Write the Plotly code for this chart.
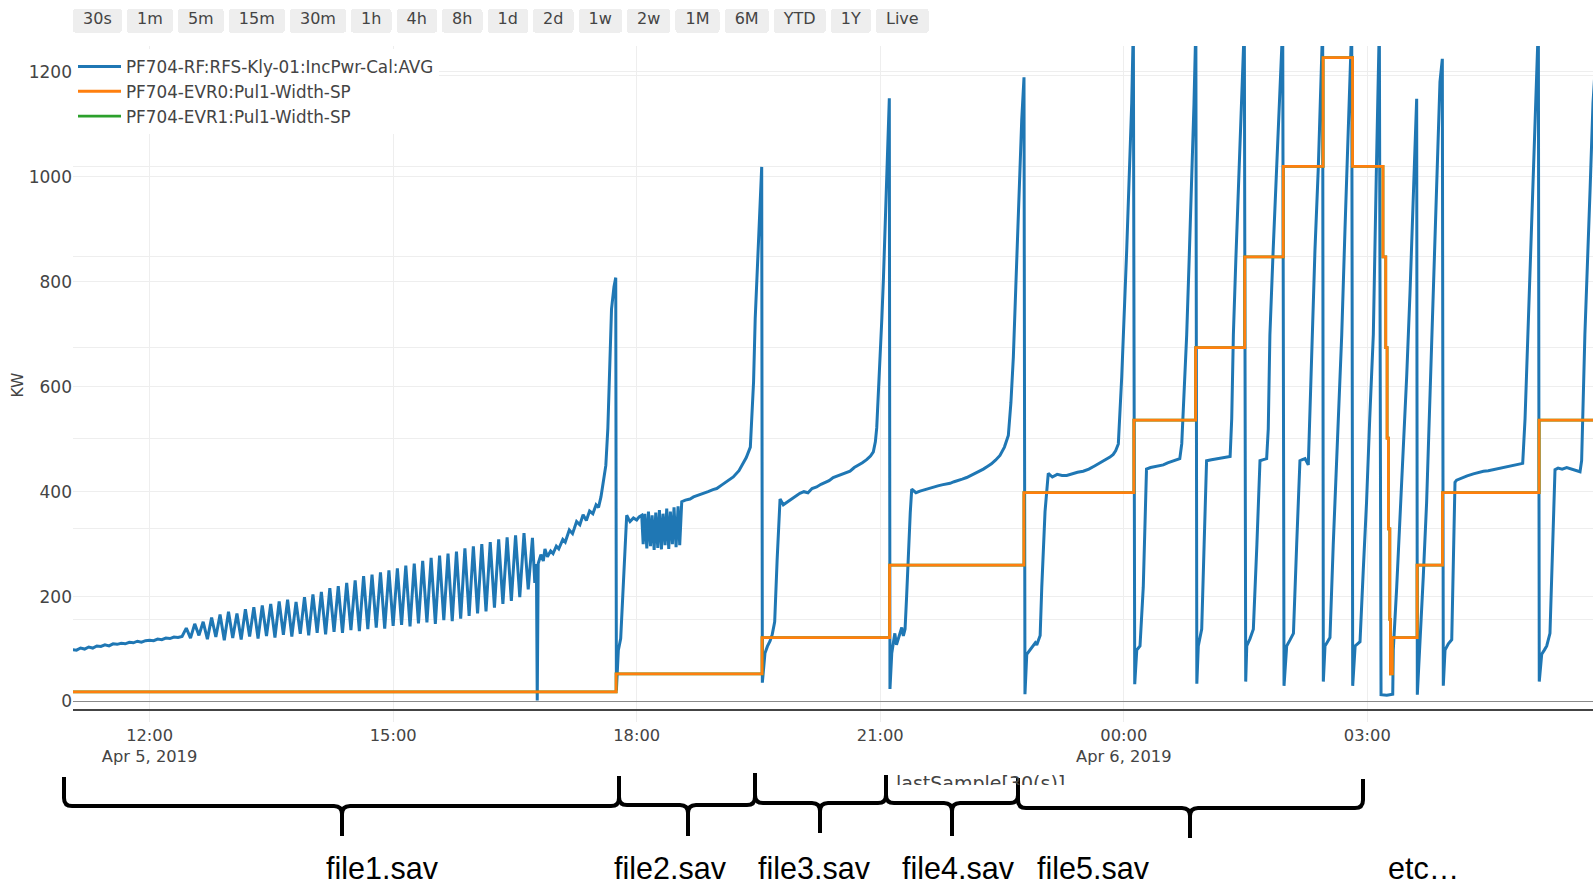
import pandas as pd
import plotly.graph_objects as go

# ------------------------------------------------------------------ data
T0 = pd.Timestamp("2019-04-05 00:00:00")   # times below are hours after this

# PF704-RF:RFS-Kly-01:IncPwr-Cal:AVG  [KW], one block per conditioning file
file1_h = [11.05, 11.10, 11.15, 11.20, 11.25, 11.30, 11.35, 11.40, 11.45, 11.50,
           11.55, 11.60, 11.65, 11.70, 11.75, 11.80, 11.85, 11.90, 11.95, 12.00,
           12.05, 12.10, 12.15, 12.20, 12.25, 12.30, 12.35,
           12.400, 12.452, 12.504, 12.556, 12.608, 12.660, 12.712, 12.764, 12.816, 12.868,
           12.920, 12.972, 13.024, 13.076, 13.128, 13.180, 13.232, 13.284, 13.336, 13.388,
           13.440, 13.492, 13.544, 13.596, 13.648, 13.700, 13.752, 13.804, 13.856, 13.908,
           13.960, 14.012, 14.064, 14.116, 14.168, 14.220, 14.272, 14.324, 14.376, 14.428,
           14.480, 14.532, 14.584, 14.636, 14.688, 14.740, 14.792, 14.844, 14.896, 14.948,
           15.000, 15.052, 15.104, 15.156, 15.208, 15.260, 15.312, 15.364, 15.416, 15.468,
           15.520, 15.572, 15.624, 15.676, 15.728, 15.780, 15.832, 15.884, 15.936, 15.988,
           16.040, 16.092, 16.144, 16.196, 16.248, 16.300, 16.352, 16.404, 16.456, 16.508,
           16.560, 16.612, 16.664, 16.716,
           16.745, 16.765, 16.775, 16.787, 16.82, 16.85, 16.87, 16.90, 16.94, 16.97,
           17.01, 17.04, 17.09, 17.12, 17.17, 17.21, 17.26, 17.30, 17.34, 17.38,
           17.42, 17.46, 17.50, 17.53, 17.56, 17.58, 17.60, 17.62, 17.645, 17.67,
           17.69, 17.72, 17.742]
file1_kw = [99, 98, 102, 100, 104, 102, 106, 105, 108, 106,
            110, 109, 111, 110, 113, 112, 115, 113, 116, 117,
            116, 119, 118, 121, 120, 123, 122,
            124, 140, 121, 148, 126, 152, 119, 160, 123, 166,
            117, 171, 121, 168, 118, 176, 124, 180, 120, 183,
            125, 186, 122, 191, 127, 194, 124, 190, 129, 199,
            126, 204, 131, 209, 128, 216, 133, 220, 131, 226,
            136, 231, 134, 239, 138, 242, 141, 246, 139, 250,
            144, 254, 146, 259, 143, 263, 149, 268, 151, 274,
            148, 278, 155, 282, 153, 286, 158, 292, 163, 296,
            168, 300, 172, 304, 179, 309, 186, 313, 192, 317,
            199, 321, 214, 312,
            226, 262, 2, 263, 280, 268, 291, 276, 287, 282,
            296, 291, 309, 304, 327, 320, 343, 337, 356, 345,
            363, 358, 375, 370, 390, 410, 430, 450, 521, 657,
            748, 790, 808]

file2_h = [17.750, 17.760, 17.774, 17.803, 17.835, 17.865, 17.877, 17.900, 17.918, 17.960,
           18.000, 18.030, 18.062, 18.080, 18.100, 18.125, 18.145, 18.170, 18.190, 18.215,
           18.235, 18.260, 18.280, 18.305, 18.325, 18.350, 18.370, 18.395, 18.415, 18.440,
           18.460, 18.485, 18.510, 18.530, 18.555, 18.600, 18.657, 18.700, 18.760, 18.820,
           18.880, 18.940, 18.986, 19.050, 19.120, 19.190, 19.260, 19.310, 19.350, 19.400,
           19.420, 19.440, 19.460, 19.480, 19.500, 19.520, 19.540]
file2_kw = [21, 60, 98, 120, 226, 321, 355, 348, 343, 350,
            346, 352, 355, 300, 358, 292, 362, 296, 355, 289,
            360, 293, 365, 290, 358, 298, 368, 291, 362, 300,
            370, 294, 372, 298, 381, 384, 386, 390, 393, 397,
            400, 404, 406, 413, 420, 428, 440, 454, 465, 485,
            540, 610, 730, 810, 884, 950, 1019]

file3_h = [19.548, 19.580, 19.610, 19.642, 19.670, 19.700, 19.730, 19.766, 19.806, 19.850,
           19.900, 19.950, 20.010, 20.060, 20.110, 20.160, 20.217, 20.270, 20.320, 20.370,
           20.420, 20.470, 20.530, 20.580, 20.628, 20.680, 20.730, 20.780, 20.833, 20.880,
           20.915, 20.940, 20.957, 20.980, 21.000, 21.020, 21.040, 21.060, 21.080, 21.100,
           21.112]
file3_kw = [36, 92, 105, 115, 128, 152, 270, 386, 375, 380,
            386, 390, 397, 400, 398, 406, 409, 414, 418, 421,
            427, 430, 433, 436, 439, 446, 450, 455, 461, 468,
            476, 495, 522, 590, 657, 730, 808, 900, 996, 1090,
            1150]

file4_h = [21.120, 21.142, 21.160, 21.180, 21.200, 21.220, 21.245, 21.265, 21.285, 21.306,
           21.325, 21.346, 21.370, 21.388, 21.440, 21.490, 21.550, 21.600, 21.654, 21.710,
           21.760, 21.810, 21.860, 21.910, 21.960, 22.010, 22.065, 22.120, 22.170, 22.220,
           22.270, 22.320, 22.370, 22.420, 22.475, 22.530, 22.578, 22.610, 22.640, 22.670,
           22.700, 22.720, 22.743, 22.771]
file4_kw = [24, 92, 110, 130, 108, 118, 135, 141, 125, 138,
            200, 281, 360, 405, 398, 401, 404, 406, 409, 411,
            413, 414, 416, 419, 421, 424, 427, 431, 435, 439,
            443, 448, 453, 460, 469, 485, 507, 570, 657, 790,
            921, 1020, 1109, 1190]

file5_h = [22.783, 22.805, 22.840, 22.886, 22.910, 22.928, 22.950, 22.970, 22.990, 23.030,
           23.070, 23.120, 23.180, 23.240, 23.297, 23.360, 23.430, 23.500, 23.570, 23.640,
           23.707, 23.770, 23.830, 23.870, 23.900, 23.933, 23.975, 24.036, 24.098, 24.118,
           24.135, 24.160, 24.200, 24.240, 24.280, 24.330, 24.390, 24.440, 24.487, 24.540,
           24.600, 24.650, 24.690, 24.714, 24.745, 24.775, 24.805, 24.837, 24.865, 24.888,
           24.900, 24.918, 24.940, 24.960, 24.990, 25.020, 25.080, 25.145, 25.200, 25.260,
           25.310, 25.330, 25.350, 25.380, 25.410, 25.450, 25.485,
           25.502, 25.515, 25.555, 25.596, 25.640, 25.678, 25.720, 25.760, 25.780, 25.800,
           25.840, 25.884, 25.920, 25.958,
           25.974, 26.007, 26.050, 26.090, 26.130, 26.170, 26.200, 26.233, 26.273, 26.290,
           26.315, 26.355, 26.397, 26.425, 26.450,
           26.458, 26.479, 26.510, 26.540, 26.580, 26.630, 26.685, 26.725, 26.766, 26.808]
file5_kw = [14, 90, 97, 106, 112, 108, 120, 126, 218, 362,
            435, 428, 433, 431, 431, 434, 437, 439, 443, 449,
            455, 460, 466, 471, 478, 491, 619, 860, 1141, 1290,
            33, 98, 106, 218, 443, 446, 448, 450, 451, 455,
            458, 460, 463, 491, 600, 699, 840, 980, 1140, 1290,
            34, 106, 120, 138, 300, 459, 461, 463, 464, 466,
            467, 540, 699, 840, 980, 1150, 1290,
            38, 106, 120, 138, 300, 459, 461, 463, 520, 699,
            860, 1020, 1160, 1290,
            30, 106, 118, 130, 300, 459, 461, 463, 451, 540,
            699, 860, 1020, 1160, 1290,
            38, 106, 114, 122, 298, 500, 699, 900, 1100, 1290]

etc_h = [26.820, 26.850, 26.880, 26.910, 26.950, 26.990, 27.030, 27.074, 27.110, 27.148,
         27.169, 27.240, 27.313,
         27.320, 27.362, 27.400, 27.443, 27.485, 27.526, 27.556, 27.587, 27.608,
         27.616, 27.650, 27.690, 27.730, 27.770, 27.813, 27.855, 27.895, 27.924,
         27.936, 27.957, 27.998, 28.040, 28.080, 28.100, 28.160, 28.230, 28.306, 28.370,
         28.430, 28.490, 28.550, 28.620, 28.680, 28.740, 28.800, 28.860, 28.914, 28.943,
         28.970, 29.000, 29.033, 29.066, 29.107,
         29.118, 29.148, 29.180, 29.210, 29.250, 29.280, 29.312, 29.350, 29.400, 29.456,
         29.500, 29.560, 29.620, 29.640, 29.680, 29.745, 29.780, 29.820]
etc_kw = [30, 106, 110, 114, 250, 378, 540, 699, 1000, 1290,
          13, 12, 14,
          98, 218, 340, 459, 620, 780, 920, 1060, 1149,
          13, 106, 240, 378, 580, 780, 980, 1181, 1225,
          30, 98, 110, 118, 418, 422, 426, 430, 434, 437,
          439, 440, 442, 445, 447, 448, 450, 452, 454, 539,
          660, 780, 940, 1100, 1290,
          38, 90, 98, 106, 130, 300, 442, 445, 443, 446,
          444, 441, 438, 459, 699, 980, 1141, 1240]

# PF704-EVR0 / EVR1:Pul1-Width-SP (step setpoints, right axis; EVR1 identical to EVR0)
width_h = [11.05, 17.747, 19.545, 21.115, 22.770, 24.125, 24.885, 25.490, 25.965, 26.455,
           26.818, 27.193, 27.227, 27.244, 27.260, 27.277, 27.285, 27.308, 27.614, 27.926,
           29.116, 29.820]
width_us = [50, 100, 200, 400, 600, 800, 1000, 1250, 1500, 1800,
            1500, 1250, 1000, 750, 500, 250, 100, 200, 400, 600,
            800, 800]

series_names = ["PF704-RF:RFS-Kly-01:IncPwr-Cal:AVG",
                "PF704-EVR0:Pul1-Width-SP",
                "PF704-EVR1:Pul1-Width-SP"]
series_colors = ["#1f77b4", "#ff7f0e", "#2ca02c"]

x_view_h = [11.0565, 29.78]
kw_range = [-39, 1249.5]
width_range = [-33, 1832]

button_labels = ["30s", "1m", "5m", "15m", "30m", "1h", "4h", "8h", "1d", "2d",
                 "1w", "2w", "1M", "6M", "YTD", "1Y", "Live"]
button_steps = [("second", 30), ("minute", 1), ("minute", 5), ("minute", 15), ("minute", 30),
                ("hour", 1), ("hour", 4), ("hour", 8), ("day", 1), ("day", 2),
                ("day", 7), ("day", 14), ("month", 1), ("month", 6), ("year", 1),
                ("year", 1), ("all", 1)]

file_labels = ["file1.sav", "file2.sav", "file3.sav", "file4.sav", "file5.sav", "etc…"]
x_title = "lastSample[30(s)]"
y_title = "KW"

# ------------------------------------------------------------------ helpers
def to_time(hours):
    return T0 + pd.to_timedelta(pd.Series(hours, dtype=float), unit="h")

pwr_h = file1_h + file2_h + file3_h + file4_h + file5_h + etc_h
pwr_kw = file1_kw + file2_kw + file3_kw + file4_kw + file5_kw + etc_kw

W, H = 1593, 884
ML, MT, MB, MR = 73, 46, 162, 0
PW, PH = W - ML - MR, H - MT - MB
BOTTOM = MT + PH

def paper_x(X):
    return (X - ML) / PW

def paper_y(Y):
    return (BOTTOM - Y) / PH

FONT = "DejaVu Sans, Verdana, sans-serif"
GRID = "#eeeeee"

# ------------------------------------------------------------------ figure
fig = go.Figure()
fig.add_trace(go.Scatter(x=to_time(pwr_h), y=pwr_kw, mode="lines",
                         name=series_names[0], legendrank=1,
                         line=dict(color=series_colors[0], width=3)))
fig.add_trace(go.Scatter(x=to_time(width_h), y=width_us, mode="lines", yaxis="y2",
                         name=series_names[2], legendrank=3, line_shape="hv",
                         line=dict(color=series_colors[2], width=2.8)))
fig.add_trace(go.Scatter(x=to_time(width_h), y=width_us, mode="lines", yaxis="y2",
                         name=series_names[1], legendrank=2, line_shape="hv",
                         line=dict(color=series_colors[1], width=2.8)))

buttons = []
for lab, (step, cnt) in zip(button_labels, button_steps):
    b = dict(label="\u00a0" + lab + "\u00a0", step=step, count=cnt)
    if step != "all":
        b["stepmode"] = "todate" if lab == "YTD" else "backward"
    buttons.append(b)

# braces drawn below the chart (pixel geometry)
braces = [  # left x, right x, tip x, left top, right top, bar y, tip y
    (64, 619, 342, 777, 776, 806, 836),
    (619, 755, 688, 776, 773, 805, 836),
    (755, 886, 820, 773, 775, 803, 833),
    (886, 1018, 952, 775, 778, 803, 836),
    (1018, 1363, 1190, 778, 779, 808, 838),
]
label_x = [382, 670, 814, 958, 1093, 1423]

def brace_path(xa, xb, xm, ya, yb, yl, yc, r=8):
    def p(X, Y):
        return f"{X - ML:.1f},{BOTTOM - Y:.1f}"
    return (f"M{p(xa, ya)} L{p(xa, yl - r)} Q{p(xa, yl)} {p(xa + r, yl)} "
            f"L{p(xm - r, yl)} Q{p(xm, yl)} {p(xm, yl + r)} L{p(xm, yc)} "
            f"M{p(xm, yl + r)} Q{p(xm, yl)} {p(xm + r, yl)} "
            f"L{p(xb - r, yl)} Q{p(xb, yl)} {p(xb, yl - r)} L{p(xb, yb)}")

shapes = []
for br in braces:
    shapes.append(dict(type="path", xref="paper", yref="paper",
                       xsizemode="pixel", ysizemode="pixel", xanchor=0, yanchor=0,
                       path=brace_path(*br), layer="above",
                       line=dict(color="black", width=4)))

annotations = [dict(text=t, x=paper_x(x), y=paper_y(867.5), xref="paper", yref="paper",
                    showarrow=False, xanchor="center", yanchor="middle",
                    font=dict(family="Liberation Sans, Arial, sans-serif", size=30.5, color="black"))
               for t, x in zip(file_labels, label_x)]
# x-axis caption: only its upper part shows above the brace picture (box clips the text)
annotations.append(dict(text=x_title, x=paper_x(980), y=paper_y(771), xref="paper", yref="paper",
                        showarrow=False, xanchor="center", yanchor="top",
                        height=13, valign="top", borderpad=0,
                        font=dict(family=FONT, size=19, color="#444")))
# y-axis caption
annotations.append(dict(text=y_title, x=paper_x(17.5), y=paper_y(385), xref="paper", yref="paper",
                        showarrow=False, xanchor="center", yanchor="middle", textangle=-90,
                        font=dict(family=FONT, size=15.5, color="#444")))

fig.update_layout(
    template="none",
    width=W, height=H, autosize=False,
    margin=dict(l=ML, r=MR, t=MT, b=MB, pad=0),
    paper_bgcolor="white", plot_bgcolor="white",
    font=dict(family=FONT, size=16.4, color="#444"),
    showlegend=True,
    legend=dict(x=0, y=paper_y(MT + 3), xanchor="left", yanchor="top", bgcolor="white",
                itemwidth=43,
                font=dict(family=FONT, size=16.8, color="#444"), borderwidth=0),
    xaxis=dict(type="date", range=list(to_time(x_view_h)),
               tick0="2019-04-05 00:00", dtick=3 * 3600 * 1000,
               showgrid=True, gridcolor=GRID, zeroline=False, showline=False, ticks="",
               ticklabelstandoff=2,
               tickfont=dict(family=FONT, size=16.3, color="#444"),
               rangeselector=dict(buttons=buttons, x=0, xanchor="left",
                                  y=paper_y(9), yanchor="top",
                                  bgcolor="#eeeeee", activecolor="#d4d4d4", borderwidth=0,
                                  font=dict(family=FONT, size=16, color="#444"))),
    yaxis=dict(range=kw_range, dtick=200, tick0=0, showgrid=True, gridcolor=GRID,
               zeroline=True, zerolinecolor="#8a8a8a", zerolinewidth=1,
               ticks="", tickfont=dict(family=FONT, size=17, color="#444")),
    yaxis2=dict(overlaying="y", side="right", range=width_range, dtick=250, tick0=0,
                showgrid=True, gridcolor=GRID, zeroline=True, zerolinecolor="#444",
                zerolinewidth=2, showticklabels=False, ticks=""),
    shapes=shapes,
    annotations=annotations,
    hovermode="x",
)

fig.write_html("out.html")
